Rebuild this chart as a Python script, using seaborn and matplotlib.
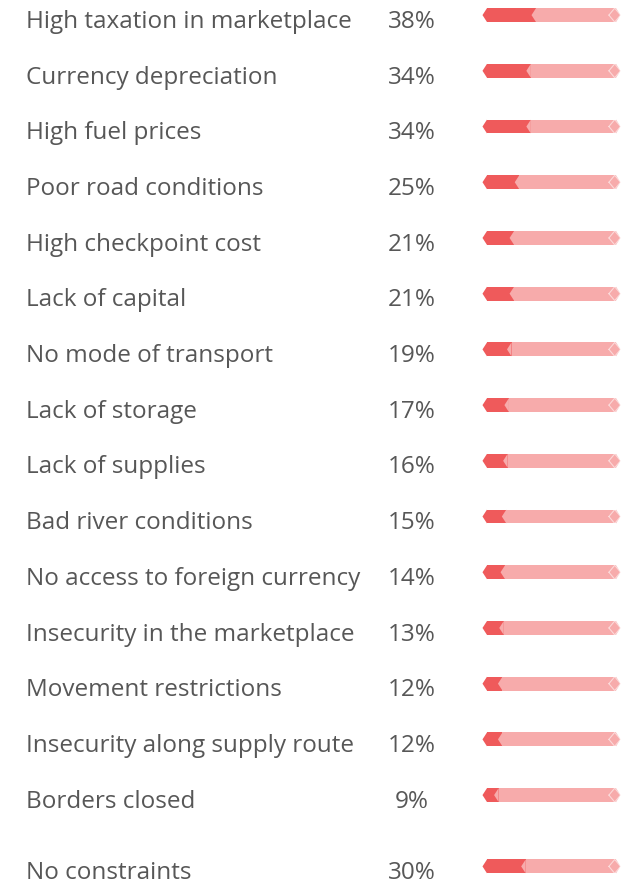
import numpy as np
import matplotlib.pyplot as plt
from matplotlib.transforms import blended_transform_factory
import seaborn as sns

labels = [
    "High taxation in marketplace",
    "Currency depreciation",
    "High fuel prices",
    "Poor road conditions",
    "High checkpoint cost",
    "Lack of capital",
    "No mode of transport",
    "Lack of storage",
    "Lack of supplies",
    "Bad river conditions",
    "No access to foreign currency",
    "Insecurity in the marketplace",
    "Movement restrictions",
    "Insecurity along supply route",
    "Borders closed",
    "No constraints",
]
values = [38, 34, 34, 25, 21, 21, 19, 17, 16, 15, 14, 13, 12, 12, 9, 30]

DARK = "#ef5a5b"
LIGHT = "#f7abab"
TEXT = "#575757"

sns.set_theme(style="white")
plt.rcParams["font.family"] = ["Open Sans", "DejaVu Sans"]

W, H = 634, 884
fig = plt.figure(figsize=(W / 100, H / 100), dpi=100)

# bar area: x=0 at px 487, x=100 at px 616
x0_px, x1_px = 487, 616
ax = fig.add_axes([x0_px / W, 0, (x1_px - x0_px) / W, 1])

# row layout (gap before the last row)
ypos = np.r_[np.arange(15), 15.28]
bar_y = ypos - 0.07
text_y = ypos + 0.05
bar_h = 0.25
tip = 3.5

sns.barplot(x=[100] * len(values), y=bar_y, orient="y", native_scale=True,
            width=bar_h, color=LIGHT, saturation=1, errorbar=None, ax=ax)
sns.barplot(x=values, y=bar_y, orient="y", native_scale=True,
            width=bar_h, color=DARK, saturation=1, errorbar=None, ax=ax)
for p in ax.patches:
    p.set_linewidth(0)

for yc, v in zip(bar_y, values):
    top, bot = yc - bar_h / 2, yc + bar_h / 2
    # left tip (dark)
    ax.fill([0, -tip, 0], [top, yc, bot], color=DARK, lw=0, clip_on=False)
    # chevron where the light part starts
    ax.fill([v, v - tip, v], [top, yc, bot], color=LIGHT, lw=0, clip_on=False)
    # right tip (light)
    ax.fill([100, 100 + tip, 100], [top, yc, bot], color=LIGHT, lw=0, clip_on=False)
    # faint diamond outline at the end
    ax.plot([100 + tip - 9, 100 + tip - 4.5, 100 + tip, 100 + tip - 4.5, 100 + tip - 9],
            [yc, top, yc, bot, yc], color="white", alpha=0.55, lw=0.8,
            clip_on=False)

ax.set_xlim(0, 100)
ax.set_ylim(14 + (H - 799) / 55.71, -19 / 55.71)
ax.axis("off")

trans = blended_transform_factory(fig.transFigure, ax.transData)
for yc, lab, v in zip(text_y, labels, values):
    ax.text(26 / W, yc, lab, transform=trans, ha="left", va="center",
            fontsize=17.5, color=TEXT)
    ax.text(412 / W, yc, f"{v}%", transform=trans, ha="center", va="center",
            fontsize=17.5, color=TEXT)

fig.savefig("out.png", dpi=100)
